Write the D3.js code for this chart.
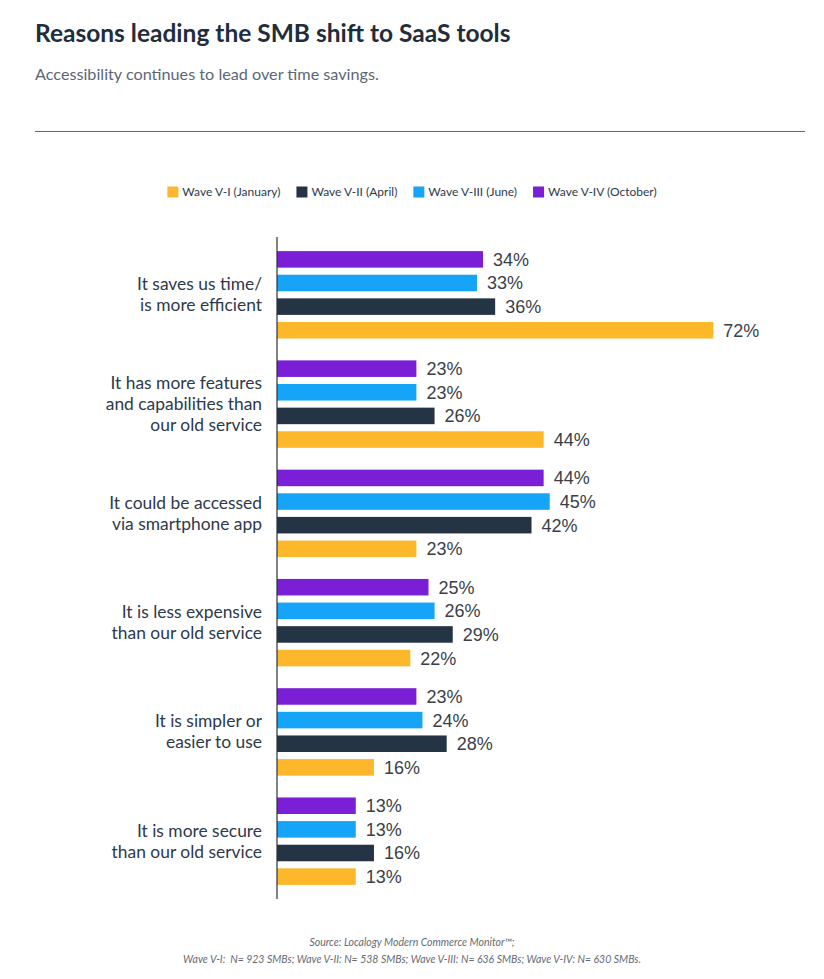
<!DOCTYPE html>
<html>
<head>
<meta charset="utf-8">
<script src="https://cdn.jsdelivr.net/npm/d3@7"></script>
<style>
  body { margin: 0; background: #fff; }
  svg { display: block; }
</style>
</head>
<body>
<div id="chart"></div>
<script>
// chart data
const categories = [
    ['It saves us time/', 'is more efficient'],
    ['It has more features', 'and capabilities than', 'our old service'],
    ['It could be accessed', 'via smartphone app'],
    ['It is less expensive', 'than our old service'],
    ['It is simpler or', 'easier to use'],
    ['It is more secure', 'than our old service']
];
const seriesNames = ['Wave V-I (January)', 'Wave V-II (April)', 'Wave V-III (June)', 'Wave V-IV (October)'];
const waveI   = [72, 44, 23, 22, 16, 13];
const waveII  = [36, 26, 42, 29, 28, 16];
const waveIII = [33, 23, 45, 26, 24, 13];
const waveIV  = [34, 23, 44, 25, 23, 13];
const seriesColors = ['#fdb72b', '#253445', '#15a4f7', '#7a1fd6'];

const width = 824, height = 979;
const labelFont = 'Lato, "Open Sans", sans-serif';

const svg = d3.select('#chart')
    .append('svg')
    .attr('width', width)
    .attr('height', height);

// title block
svg.append('text')
    .attr('x', 35).attr('y', 42)
    .attr('font-family', labelFont)
    .attr('font-weight', 700)
    .attr('font-size', 24.5)
    .attr('fill', '#1f2d3d')
    .text('Reasons leading the SMB shift to SaaS tools');

svg.append('text')
    .attr('x', 35).attr('y', 80)
    .attr('font-family', labelFont)
    .attr('font-size', 16.2)
    .attr('fill', '#5b6776')
    .text('Accessibility continues to lead over time savings.');

svg.append('line')
    .attr('x1', 35).attr('x2', 805)
    .attr('y1', 131.5).attr('y2', 131.5)
    .attr('stroke', '#5f6670')
    .attr('stroke-width', 1);

// legend
const legend = svg.append('g').attr('class', 'legend');
let lx = 0;
seriesNames.forEach((name, i) => {
    let item = legend.append('g').attr('transform', `translate(${lx},0)`);
    item.append('rect')
        .attr('x', 0).attr('y', -5.5)
        .attr('width', 11).attr('height', 11)
        .attr('fill', seriesColors[i]);
    let t = item.append('text')
        .attr('x', 15).attr('y', 0)
        .attr('dy', '0.35em')
        .attr('font-family', labelFont)
        .attr('font-size', 12)
        .attr('fill', '#2d3a4a')
        .text(name);
    lx += 15 + t.node().getComputedTextLength() + 16;
});
lx -= 16;
legend.attr('transform', `translate(${(width - lx) / 2},192)`);

// scales
const x = d3.scaleLinear()
    .domain([0, 100])
    .range([277, 883]);

const y0 = d3.scaleBand()
    .domain(d3.range(categories.length))
    .range([238, 898])
    .paddingInner(0.2)
    .paddingOuter(0.12);

// bars stacked top-to-bottom: V-IV, V-III, V-II, V-I
const y1 = d3.scaleBand()
    .domain([3, 2, 1, 0])
    .range([0, y0.bandwidth()])
    .paddingInner(0.3);

const series = [waveI, waveII, waveIII, waveIV];
const rows = [];
categories.forEach((c, ci) => {
    series.forEach((s, si) => rows.push({ cat: ci, series: si, value: s[ci] }));
});

const plot = svg.append('g');

plot.selectAll('rect.bar')
    .data(rows)
    .enter()
    .append('rect')
    .attr('class', 'bar')
    .attr('x', x(0))
    .attr('y', d => y0(d.cat) + y1(d.series))
    .attr('width', d => x(d.value) - x(0))
    .attr('height', y1.bandwidth())
    .attr('fill', d => seriesColors[d.series]);

plot.selectAll('text.value')
    .data(rows)
    .enter()
    .append('text')
    .attr('class', 'value')
    .attr('x', d => x(d.value) + 10)
    .attr('y', d => y0(d.cat) + y1(d.series) + y1.bandwidth() / 2)
    .attr('dy', '0.36em')
    .attr('font-family', '"Liberation Sans", Arial, sans-serif')
    .attr('font-size', 18)
    .attr('fill', '#3a3f47')
    .text(d => d.value + '%');

// category labels
const lineH = 21;
plot.selectAll('text.cat')
    .data(categories)
    .enter()
    .append('text')
    .attr('class', 'cat')
    .attr('text-anchor', 'end')
    .attr('font-family', labelFont)
    .attr('font-size', 17.4)
    .attr('fill', '#2d3a4a')
    .each(function (d, i) {
        let cy = y0(i) + y0.bandwidth() / 2;
        let top = cy - (d.length - 1) * lineH / 2;
        d3.select(this).selectAll('tspan')
            .data(d)
            .enter()
            .append('tspan')
            .attr('x', 262)
            .attr('y', (l, j) => top + j * lineH)
            .attr('dy', '0.35em')
            .text(l => l);
    });

// axis line
svg.append('line')
    .attr('x1', x(0)).attr('x2', x(0))
    .attr('y1', 237).attr('y2', 899)
    .attr('stroke', '#2a2f36')
    .attr('stroke-width', 1.2);

// source note
const notes = [
    'Source: Localogy Modern Commerce Monitor™;',
    'Wave V-I:  N= 923 SMBs; Wave V-II: N= 538 SMBs; Wave V-III: N= 636 SMBs; Wave V-IV: N= 630 SMBs.'
];
svg.selectAll('text.note')
    .data(notes)
    .enter()
    .append('text')
    .attr('class', 'note')
    .attr('x', 412)
    .attr('y', (d, i) => 946 + i * 17)
    .attr('text-anchor', 'middle')
    .attr('font-family', labelFont)
    .attr('font-style', 'italic')
    .attr('font-size', 10.5)
    .attr('fill', '#666a70')
    .style('white-space', 'pre')
    .text(d => d);
</script>
</body>
</html>
